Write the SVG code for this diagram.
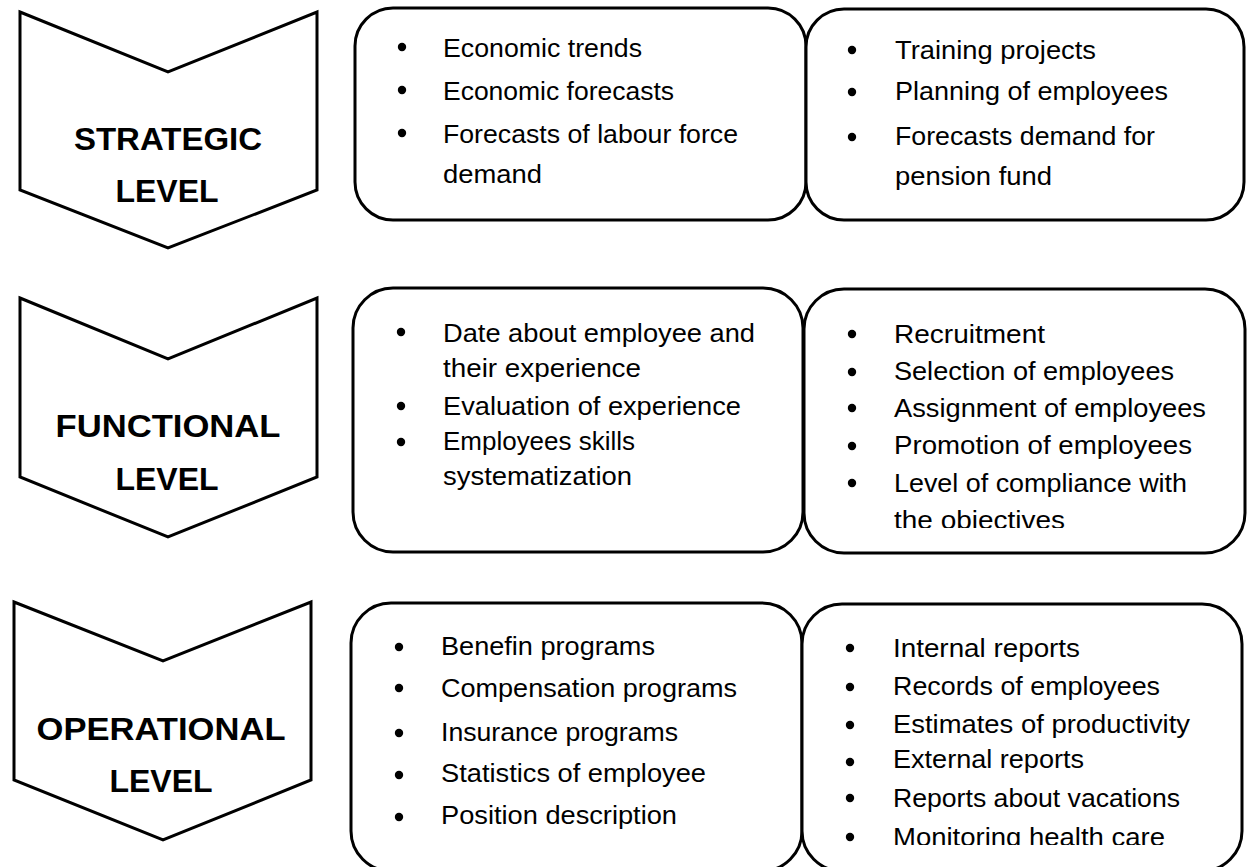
<svg xmlns="http://www.w3.org/2000/svg" width="1248" height="867" viewBox="0 0 1248 867">
<style>
.chev{fill:#fff;stroke:#000;stroke-width:3;stroke-linejoin:miter}
.box{fill:#fff;stroke:#000;stroke-width:3}
.lvl{font-family:"Liberation Sans",Arial,sans-serif;font-weight:bold;font-size:32px;fill:#000;text-anchor:middle}
.it{font-family:"Liberation Sans",Arial,sans-serif;font-size:26px;fill:#000}
.bul{fill:#000}
</style>
<defs>
<clipPath id="clipF2"><rect x="800" y="280" width="448" height="248"/></clipPath>
<clipPath id="clipO2"><rect x="800" y="600" width="448" height="245"/></clipPath>
</defs>
<rect width="1248" height="867" fill="#fff"/>

<g id="strategic-level">
<polygon class="chev" points="20,12 168,72 317,12 317,190 168,248 20,190"/>
<text class="lvl" x="168" y="150" textLength="188" lengthAdjust="spacingAndGlyphs">STRATEGIC</text>
<text class="lvl" x="167" y="202">LEVEL</text>
</g>

<g id="strategic-box-1">
<rect class="box" x="355" y="8" width="451" height="212" rx="38" ry="38"/>
<circle class="bul" cx="402" cy="47" r="4.2"/>
<circle class="bul" cx="402" cy="90" r="4.2"/>
<circle class="bul" cx="402" cy="133" r="4.2"/>
<text class="it" x="443" y="57" textLength="199" lengthAdjust="spacingAndGlyphs">Economic trends</text>
<text class="it" x="443" y="100" textLength="231" lengthAdjust="spacingAndGlyphs">Economic forecasts</text>
<text class="it" x="443" y="143" textLength="295" lengthAdjust="spacingAndGlyphs">Forecasts of labour force</text>
<text class="it" x="443" y="183" textLength="99" lengthAdjust="spacingAndGlyphs">demand</text>
</g>

<g id="strategic-box-2">
<rect class="box" x="806" y="9" width="438" height="211" rx="38" ry="38"/>
<circle class="bul" cx="852" cy="50" r="4.2"/>
<circle class="bul" cx="852" cy="92" r="4.2"/>
<circle class="bul" cx="852" cy="137" r="4.2"/>
<text class="it" x="895" y="59" textLength="201" lengthAdjust="spacingAndGlyphs">Training projects</text>
<text class="it" x="895" y="100" textLength="273" lengthAdjust="spacingAndGlyphs">Planning of employees</text>
<text class="it" x="895" y="145" textLength="260" lengthAdjust="spacingAndGlyphs">Forecasts demand for</text>
<text class="it" x="895" y="185" textLength="157" lengthAdjust="spacingAndGlyphs">pension fund</text>
</g>

<g id="functional-level">
<polygon class="chev" points="20,298 168,359 317,298 317,477 168,537 20,477"/>
<text class="lvl" x="168" y="437" textLength="225" lengthAdjust="spacingAndGlyphs">FUNCTIONAL</text>
<text class="lvl" x="167" y="490">LEVEL</text>
</g>

<g id="functional-box-1">
<rect class="box" x="353" y="288" width="450" height="264" rx="40" ry="40"/>
<circle class="bul" cx="401" cy="332" r="4.2"/>
<circle class="bul" cx="401" cy="406" r="4.2"/>
<circle class="bul" cx="401" cy="442" r="4.2"/>
<text class="it" x="443" y="342" textLength="312" lengthAdjust="spacingAndGlyphs">Date about employee and</text>
<text class="it" x="443" y="377" textLength="198" lengthAdjust="spacingAndGlyphs">their experience</text>
<text class="it" x="443" y="415" textLength="298" lengthAdjust="spacingAndGlyphs">Evaluation of experience</text>
<text class="it" x="443" y="450" textLength="192" lengthAdjust="spacingAndGlyphs">Employees skills</text>
<text class="it" x="443" y="485" textLength="189" lengthAdjust="spacingAndGlyphs">systematization</text>
</g>

<g id="functional-box-2">
<rect class="box" x="804" y="289" width="441" height="264" rx="40" ry="40"/>
<circle class="bul" cx="852" cy="334" r="4.2"/>
<circle class="bul" cx="852" cy="372" r="4.2"/>
<circle class="bul" cx="852" cy="408" r="4.2"/>
<circle class="bul" cx="852" cy="446" r="4.2"/>
<circle class="bul" cx="852" cy="483" r="4.2"/>
<g clip-path="url(#clipF2)">
<text class="it" x="894" y="343" textLength="151" lengthAdjust="spacingAndGlyphs">Recruitment</text>
<text class="it" x="894" y="380" textLength="280" lengthAdjust="spacingAndGlyphs">Selection of employees</text>
<text class="it" x="894" y="417" textLength="312" lengthAdjust="spacingAndGlyphs">Assignment of employees</text>
<text class="it" x="894" y="454" textLength="298" lengthAdjust="spacingAndGlyphs">Promotion of employees</text>
<text class="it" x="894" y="492" textLength="293" lengthAdjust="spacingAndGlyphs">Level of compliance with</text>
<text class="it" x="894" y="529" textLength="171" lengthAdjust="spacingAndGlyphs">the objectives</text>
</g>
</g>

<g id="operational-level">
<polygon class="chev" points="14,602 163,661 311,602 311,780 163,840 14,780"/>
<text class="lvl" x="161" y="740" textLength="249" lengthAdjust="spacingAndGlyphs">OPERATIONAL</text>
<text class="lvl" x="161" y="792">LEVEL</text>
</g>

<g id="operational-box-1">
<rect class="box" x="351" y="603" width="451" height="268" rx="40" ry="40"/>
<circle class="bul" cx="399" cy="647" r="4.2"/>
<circle class="bul" cx="399" cy="688" r="4.2"/>
<circle class="bul" cx="399" cy="733" r="4.2"/>
<circle class="bul" cx="399" cy="775" r="4.2"/>
<circle class="bul" cx="399" cy="817" r="4.2"/>
<text class="it" x="441" y="655" textLength="214" lengthAdjust="spacingAndGlyphs">Benefin programs</text>
<text class="it" x="441" y="697" textLength="296" lengthAdjust="spacingAndGlyphs">Compensation programs</text>
<text class="it" x="441" y="741" textLength="237" lengthAdjust="spacingAndGlyphs">Insurance programs</text>
<text class="it" x="441" y="782" textLength="265" lengthAdjust="spacingAndGlyphs">Statistics of employee</text>
<text class="it" x="441" y="824" textLength="236" lengthAdjust="spacingAndGlyphs">Position description</text>
</g>

<g id="operational-box-2">
<rect class="box" x="802" y="604" width="440" height="267" rx="40" ry="40"/>
<circle class="bul" cx="850" cy="648" r="4.2"/>
<circle class="bul" cx="850" cy="687" r="4.2"/>
<circle class="bul" cx="850" cy="725" r="4.2"/>
<circle class="bul" cx="850" cy="762" r="4.2"/>
<circle class="bul" cx="850" cy="798" r="4.2"/>
<circle class="bul" cx="850" cy="837" r="4.2"/>
<g clip-path="url(#clipO2)">
<text class="it" x="893" y="657" textLength="187" lengthAdjust="spacingAndGlyphs">Internal reports</text>
<text class="it" x="893" y="695" textLength="267" lengthAdjust="spacingAndGlyphs">Records of employees</text>
<text class="it" x="893" y="733" textLength="297" lengthAdjust="spacingAndGlyphs">Estimates of productivity</text>
<text class="it" x="893" y="768" textLength="191" lengthAdjust="spacingAndGlyphs">External reports</text>
<text class="it" x="893" y="807" textLength="287" lengthAdjust="spacingAndGlyphs">Reports about vacations</text>
<text class="it" x="893" y="846" textLength="272" lengthAdjust="spacingAndGlyphs">Monitoring health care</text>
</g>
</g>

<g id="connectors"></g>
</svg>
